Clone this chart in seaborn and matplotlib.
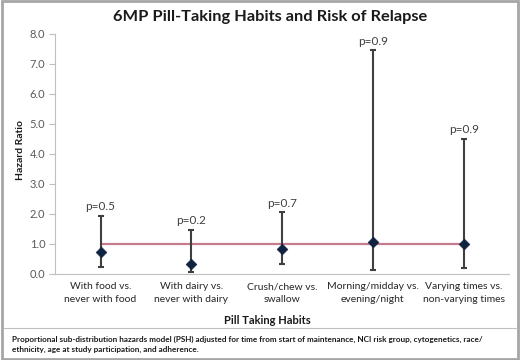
import numpy as np
import pandas as pd
import matplotlib
matplotlib.use("Agg")
import matplotlib.pyplot as plt
import seaborn as sns
from matplotlib.lines import Line2D
from matplotlib.patches import Rectangle

habits = ["With food vs.\nnever with food", "With dairy vs.\nnever with dairy",
          "Crush/chew vs.\nswallow", "Morning/midday vs.\nevening/night",
          "Varying times vs.\nnon-varying times"]
hazard_ratio = [0.72, 0.32, 0.84, 1.07, 0.99]
ci_low = [0.24, 0.08, 0.34, 0.14, 0.21]
ci_high = [1.94, 1.48, 2.05, 7.45, 4.50]
p_values = ["p=0.5", "p=0.2", "p=0.7", "p=0.9", "p=0.9"]
reference = [1.0, 1.0, 1.0, 1.0, 1.0]

df = pd.DataFrame({"habit": habits, "hr": hazard_ratio, "lo": ci_low,
                   "hi": ci_high, "p": p_values, "ref": reference})
df["x"] = np.arange(len(df))

sns.set_theme(style="white")
plt.rcParams["font.family"] = ["Lato", "DejaVu Sans"]

fig = plt.figure(figsize=(5.2, 3.6), dpi=100)
ax = fig.add_axes([0.106, 0.239, 0.873, 0.667])

# reference line at HR = 1
sns.lineplot(data=df, x="x", y="ref", ax=ax, color="#c77b8e", lw=1.6, zorder=2)

# confidence intervals
ax.errorbar(df["x"], df["hr"], yerr=[df["hr"] - df["lo"], df["hi"] - df["hr"]],
            fmt="none", ecolor="#3f3f3f", elinewidth=1.5, capsize=2.5, capthick=1.5, zorder=3)

# point estimates
sns.scatterplot(data=df, x="x", y="hr", ax=ax, marker="D", s=30, color="#0f2240",
                edgecolor="#0f2240", zorder=4)

for _, r in df.iterrows():
    ax.text(r["x"], r["hi"] + 0.12, r["p"], ha="center", va="bottom",
            fontsize=8.5, color="#404040")

ax.set_xlim(-0.5, 4.5)
ax.set_ylim(0, 8)
ax.set_yticks(np.arange(0, 8.1, 1.0))
ax.set_yticklabels([f"{v:.1f}" for v in np.arange(0, 8.1, 1.0)], fontsize=8, color="#595959")
ax.set_xticks(df["x"])
ax.set_xticklabels(df["habit"], fontsize=7.5, color="#262626", linespacing=1.5)
ax.set_xticks(np.arange(-0.5, 4.6, 1.0), minor=True)
ax.tick_params(axis="x", which="major", length=0, pad=6)
ax.tick_params(axis="x", which="minor", length=4, color="#bfbfbf", width=0.8)
ax.tick_params(axis="y", length=4, color="#bfbfbf", width=0.8, left=True, pad=3)

for s in ["top", "right"]:
    ax.spines[s].set_visible(False)
for s in ["left", "bottom"]:
    ax.spines[s].set_color("#bfbfbf")
    ax.spines[s].set_linewidth(0.8)

ax.set_xlabel("")
ax.set_ylabel("")
fig.text(0.514, 0.111, "Pill Taking Habits", ha="center", va="center",
         fontsize=8, fontweight="bold", color="#1a1a1a")
fig.text(0.04, 0.583, "Hazard Ratio", ha="center", va="center", rotation=90,
         fontsize=7.5, fontweight="bold", color="#1a1a1a")

fig.text(0.52, 0.952, "6MP Pill-Taking Habits and Risk of Relapse", ha="center", va="center",
         fontsize=11.8, fontweight="bold", color="#1a1a1a")

fig.text(0.023, 0.043, "Proportional sub-distribution hazards model (PSH) adjusted for time from start of "
         "maintenance, NCI risk group, cytogenetics, race/\nethnicity, age at study participation, and adherence.",
         ha="left", va="center", fontsize=5.85, fontweight="bold", color="#1a1a1a", linespacing=1.55)

# separator and outer border
fig.add_artist(Line2D([0.006, 0.994], [0.089, 0.089], transform=fig.transFigure,
                      color="#bfbfbf", lw=0.8))
fig.add_artist(Rectangle((0.003, 0.004), 0.994, 0.992, transform=fig.transFigure,
                         fill=False, edgecolor="#a6a6a6", lw=2))

fig.savefig("out.png", dpi=100)
